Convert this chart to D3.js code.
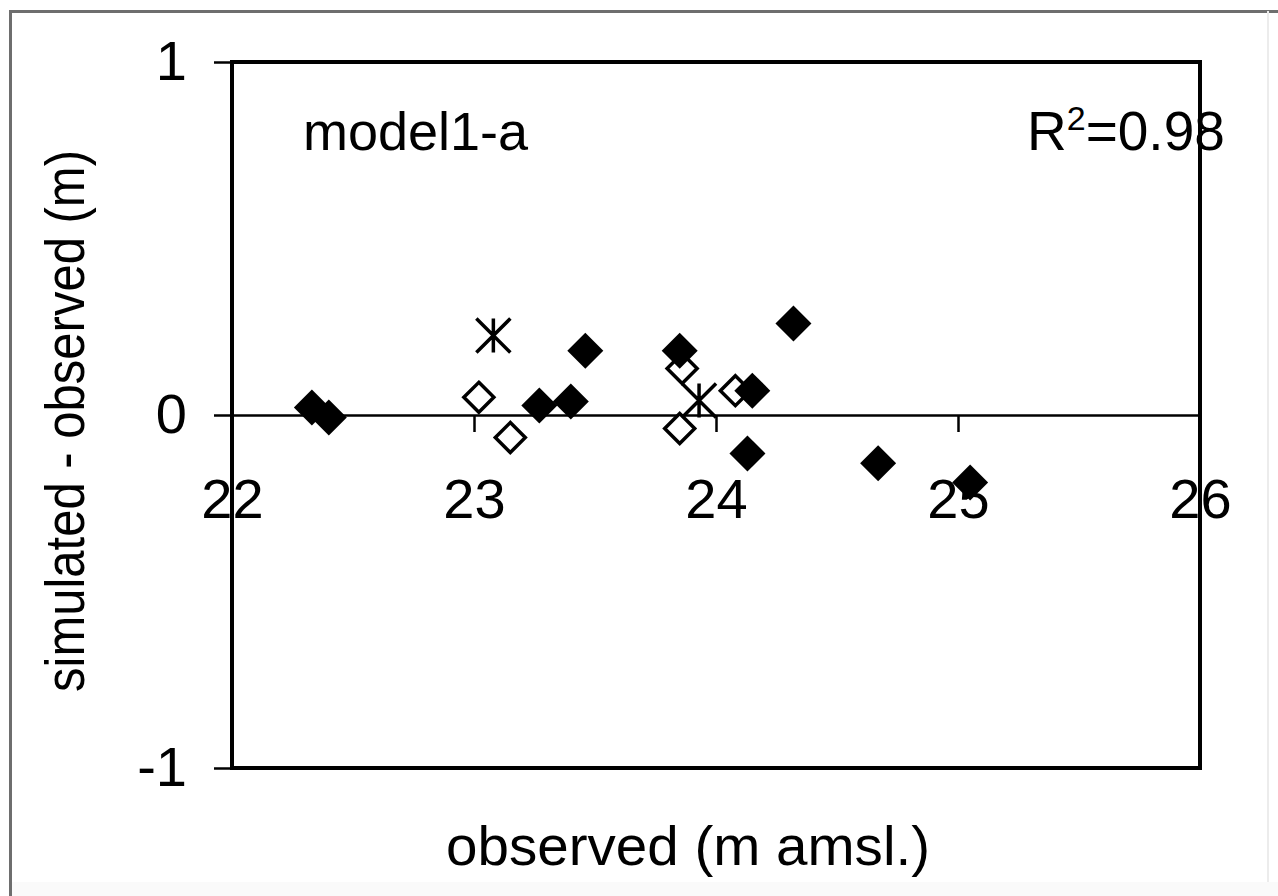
<!DOCTYPE html>
<html>
<head>
<meta charset="utf-8">
<script src="https://cdn.jsdelivr.net/npm/d3@7"></script>
<style>
  body { margin: 0; background: #fff; }
  text { font-family: "Liberation Sans", Arial, sans-serif; fill: #000; }
</style>
</head>
<body>
<script>
// observed head (m amsl) and simulated - observed (m), per marker group
const filledObs = [22.33, 22.40, 23.27, 23.40, 23.46, 23.85, 24.13, 24.15, 24.32, 24.67, 25.05];
const filledDiff = [0.021, -0.007, 0.027, 0.038, 0.182, 0.182, -0.109, 0.069, 0.259, -0.137, -0.191];
const openObs = [23.02, 23.15, 23.86, 23.85, 24.08];
const openDiff = [0.05, -0.064, 0.132, -0.038, 0.069];
const starObs = [23.08, 23.93];
const starDiff = [0.225, 0.041];
const xTicks = [22, 23, 24, 25, 26];
const yTicks = [-1, 0, 1];

const width = 1278, height = 896;
const margin = { top: 62, right: 78, bottom: 128, left: 232 };

const svg = d3.select("body").append("svg")
  .attr("width", width)
  .attr("height", height);

// outer chart border (left/top visible, right faint)
svg.append("path")
  .attr("d", `M10.5,${height}V11.5H${width}`)
  .attr("fill", "none")
  .attr("stroke", "#6e6e6e")
  .attr("stroke-width", 3);
svg.append("line")
  .attr("x1", 1268).attr("x2", 1268).attr("y1", 11).attr("y2", height)
  .attr("stroke", "#ececec").attr("stroke-width", 2);
svg.append("rect")
  .attr("x", 12).attr("y", 882).attr("width", width - 12).attr("height", 14)
  .attr("fill", "#fafafa");

const x = d3.scaleLinear().domain([22, 26]).range([margin.left, width - margin.right]);
const y = d3.scaleLinear().domain([-1, 1]).range([height - margin.bottom, margin.top]);

const plain = d => String(d);

// y axis
svg.append("g")
  .attr("transform", `translate(${margin.left},0)`)
  .call(d3.axisLeft(y).tickValues(yTicks).tickSize(18).tickPadding(27).tickFormat(plain))
  .call(g => g.select(".domain").remove())
  .call(g => g.selectAll("line").attr("stroke", "#000").attr("stroke-width", 2.5))
  .call(g => g.selectAll("text")
    .attr("font-size", 56)
    .style("font-family", "Liberation Sans, Arial, sans-serif"));

// x axis on the zero line
svg.append("g")
  .attr("transform", `translate(0,${y(0)})`)
  .call(d3.axisBottom(x).tickValues(xTicks).tickSize(17).tickPadding(46).tickSizeOuter(0).tickFormat(plain))
  .call(g => g.select(".domain").attr("stroke", "#000").attr("stroke-width", 2.5))
  .call(g => g.selectAll("line").attr("stroke", "#000").attr("stroke-width", 2.5))
  .call(g => g.selectAll("text")
    .attr("font-size", 56)
    .style("font-family", "Liberation Sans, Arial, sans-serif"));

// plot frame
svg.append("rect")
  .attr("x", x(22)).attr("y", y(1))
  .attr("width", x(26) - x(22)).attr("height", y(-1) - y(1))
  .attr("fill", "none")
  .attr("stroke", "#000")
  .attr("stroke-width", 4);

// marker shapes
const diamond = {
  draw(ctx, size) {
    const r = Math.sqrt(size) / 2;
    ctx.moveTo(0, -r); ctx.lineTo(r, 0); ctx.lineTo(0, r); ctx.lineTo(-r, 0); ctx.closePath();
  }
};
const star = {
  draw(ctx, size) {
    const r = Math.sqrt(size) / 2;
    ctx.moveTo(-r, -r); ctx.lineTo(r, r);
    ctx.moveTo(r, -r); ctx.lineTo(-r, r);
    ctx.moveTo(0, -r); ctx.lineTo(0, r);
  }
};

const openPts = openObs.map((d, i) => ({ x: d, y: openDiff[i] }));
const starPts = starObs.map((d, i) => ({ x: d, y: starDiff[i] }));
const filledPts = filledObs.map((d, i) => ({ x: d, y: filledDiff[i] }));

svg.append("g").selectAll("path")
  .data(openPts).join("path")
  .attr("transform", d => `translate(${x(d.x)},${y(d.y)})`)
  .attr("d", d3.symbol(diamond, 30 * 30))
  .attr("fill", "#fff")
  .attr("stroke", "#000")
  .attr("stroke-width", 3.5);

svg.append("g").selectAll("path")
  .data(starPts).join("path")
  .attr("transform", d => `translate(${x(d.x)},${y(d.y)})`)
  .attr("d", d3.symbol(star, 34 * 34))
  .attr("fill", "none")
  .attr("stroke", "#000")
  .attr("stroke-width", 3.5);

svg.append("g").selectAll("path")
  .data(filledPts).join("path")
  .attr("transform", d => `translate(${x(d.x)},${y(d.y)})`)
  .attr("d", d3.symbol(diamond, 36 * 36))
  .attr("fill", "#000");

// annotations
svg.append("text")
  .attr("x", 303).attr("y", 150)
  .attr("font-size", 54)
  .text("model1-a");

const r2 = svg.append("text")
  .attr("x", 1027).attr("y", 150)
  .attr("font-size", 55);
r2.append("tspan").text("R");
r2.append("tspan").attr("font-size", 34).attr("dy", -20).text("2");
r2.append("tspan").attr("dy", 20).text("=0.98");

// axis titles
svg.append("text")
  .attr("x", 688).attr("y", 865)
  .attr("text-anchor", "middle")
  .attr("font-size", 56)
  .attr("textLength", 484)
  .attr("lengthAdjust", "spacingAndGlyphs")
  .text("observed (m amsl.)");

svg.append("text")
  .attr("transform", `translate(84,${(150 + 692) / 2}) rotate(-90)`)
  .attr("text-anchor", "middle")
  .attr("font-size", 56)
  .attr("textLength", 542)
  .attr("lengthAdjust", "spacingAndGlyphs")
  .text("simulated - observed (m)");
</script>
</body>
</html>
